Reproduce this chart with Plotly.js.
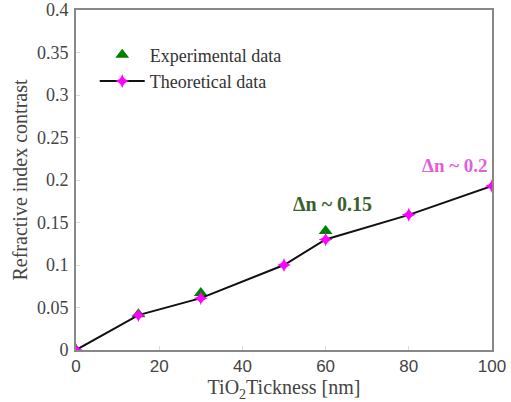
<!DOCTYPE html>
<html><head><meta charset="utf-8">
<script src="https://cdn.plot.ly/plotly-3.0.1.min.js"></script>
<style>html,body{margin:0;padding:0;background:#fff}</style>
</head><body><div id="chart" style="width:511px;height:402px"></div>
<script>
const thickness = [0, 15, 30, 50, 60, 80, 100];
const theoretical = [0, 0.041, 0.061, 0.100, 0.130, 0.159, 0.193];
const expThickness = [0, 15, 30, 60];
const experimental = [0, 0.042, 0.067, 0.140];
const xTicks = [0, 20, 40, 60, 80, 100];
const yTicks = [0, 0.05, 0.1, 0.15, 0.2, 0.25, 0.3, 0.35, 0.4];
const yTickText = ['0', '0.05', '0.1', '0.15', '0.2', '0.25', '0.3', '0.35', '0.4'];

const serif = '"Liberation Serif", "Times New Roman", serif';
const sans = '"Liberation Sans", Arial, sans-serif';

const traces = [
  {x: expThickness, y: experimental, mode: 'markers', name: 'Experimental data',
   marker: {symbol: 'triangle-up', size: 12, color: '#008000'}},
  {x: thickness, y: theoretical, mode: 'lines+markers', name: 'Theoretical data',
   line: {color: '#111', width: 2},
   marker: {symbol: 'star-diamond', size: 10, color: '#ff00ff'}}
];

const layout = {
  width: 511, height: 402,
  margin: {l: 76, r: 19, t: 10, b: 52},
  paper_bgcolor: '#fff', plot_bgcolor: '#fff',
  showlegend: true,
  legend: {x: 0.045, y: 0.922, xanchor: 'left', yanchor: 'top',
    font: {family: serif, size: 18, color: '#333'}, bgcolor: 'rgba(0,0,0,0)',
    itemwidth: 45, tracegroupgap: 0},
  xaxis: {range: [0, 100], tickvals: xTicks, showgrid: false, zeroline: false,
    showline: true, linecolor: '#888', linewidth: 2, mirror: true,
    ticks: 'inside', ticklen: 4, tickcolor: '#ddd',
    tickfont: {family: sans, size: 17, color: '#444'},
    title: {text: 'TiO<sub>2</sub>Tickness [nm]', font: {family: serif, size: 20, color: '#444'}, standoff: 0}},
  yaxis: {range: [0, 0.4], tickvals: yTicks, ticktext: yTickText, showgrid: false, zeroline: false,
    showline: true, linecolor: '#888', linewidth: 2, mirror: true,
    ticks: 'inside', ticklen: 4, tickcolor: '#ddd', ticklabelstandoff: 2,
    tickfont: {family: serif, size: 18, color: '#444'},
    title: {text: 'Refractive index contrast', font: {family: serif, size: 20, color: '#444'}, standoff: 4}},
  annotations: [
    {x: 60, y: 0.14, xref: 'x', yref: 'y', text: '<b>Δn ~ 0.15</b>', showarrow: false,
     yshift: 27, xshift: 7, font: {family: serif, size: 20, color: '#3d5e2e'}},
    {x: 100, y: 0.193, xref: 'x', yref: 'y', text: '<b>Δn ~ 0.2</b>', showarrow: false,
     xanchor: 'right', yshift: 20, xshift: -2, font: {family: serif, size: 19, color: '#e060d8'}}
  ]
};

Plotly.newPlot('chart', traces, layout, {displayModeBar: false, staticPlot: true});
</script></body></html>
